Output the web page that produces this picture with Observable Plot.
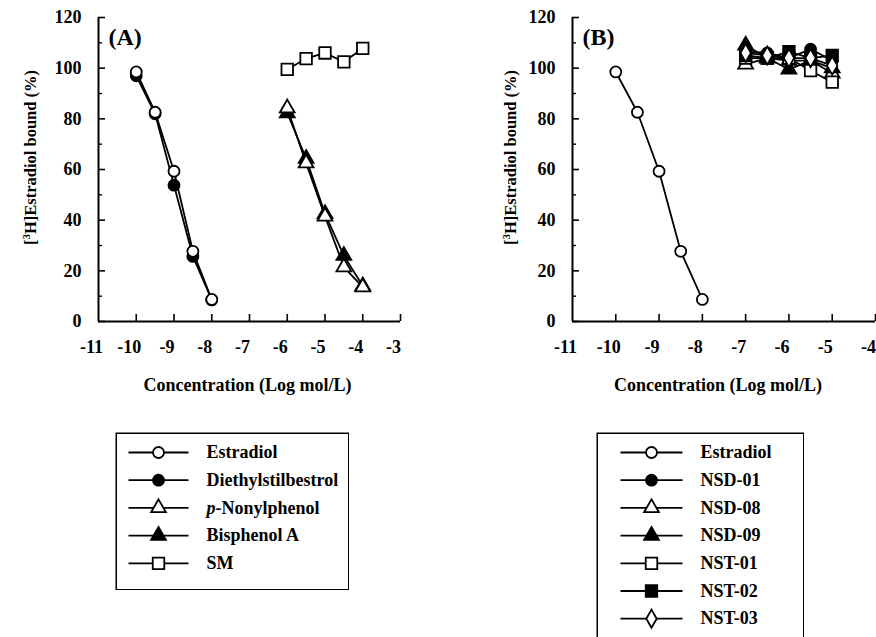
<!DOCTYPE html>
<html><head><meta charset="utf-8">
<script src="https://cdn.jsdelivr.net/npm/d3@7"></script>
<script src="https://cdn.jsdelivr.net/npm/@observablehq/plot@0.6"></script>
<style>
html,body{margin:0;padding:0;background:#fff;overflow:hidden;}
body{width:876px;height:637px;position:relative;font-family:"Liberation Serif",serif;}
.p{position:absolute;}
</style></head><body>
<div id="pa" class="p" style="left:0;top:0"></div>
<div id="pb" class="p" style="left:440px;top:0"></div>
<div id="la" class="p" style="left:115px;top:432px"></div>
<div id="lb" class="p" style="left:596px;top:432px"></div>
<script>
// ---- data ----
const yTicks = [0, 20, 40, 60, 80, 100, 120];
const xTicksA = [-11, -10, -9, -8, -7, -6, -5, -4, -3];
const xTicksB = [-11, -10, -9, -8, -7, -6, -5, -4];

const concE2 = [-10, -9.5, -9, -8.5, -8];
const estradiol = [98.5, 82.6, 59.3, 27.7, 8.7];
const diethylstilbestrol = [97, 82, 53.8, 25.7, 8.5];

const concEnv = [-6, -5.5, -5, -4.5, -4];
const nonylphenol = [84.2, 62.5, 41.5, 21.5, 13.6];
const bisphenolA = [82.3, 64.3, 42.5, 26, 14];
const smValues = [99.5, 103.8, 106, 102.5, 107.8];

const concNS = [-7, -6.5, -6, -5.5, -5];
const nsd01 = [106.5, 106, 104, 107.5, 103];
const nsd08 = [101.5, 104, 103, 103, 98];
const nsd09 = [109, 104, 99.5, 103, 100];
const nst01 = [104, 104, 104, 99, 94.5];
const nst02 = [105, 104, 106.5, 104, 105];
const nst03 = [106, 105, 104, 104, 101];

const seriesA = [
  {name: "Estradiol", x: concE2, y: estradiol, symbol: "circle", fill: "white", r: 5.5},
  {name: "Diethylstilbestrol", x: concE2, y: diethylstilbestrol, symbol: "circle", fill: "black", r: 5.5},
  {name: "p-Nonylphenol", x: concEnv, y: nonylphenol, symbol: "triangle", fill: "white", r: 5.5},
  {name: "Bisphenol A", x: concEnv, y: bisphenolA, symbol: "triangle", fill: "black", r: 5.5},
  {name: "SM", x: concEnv, y: smValues, symbol: "square", fill: "white", r: 6.5}
];
const seriesB = [
  {name: "Estradiol", x: concE2, y: estradiol, symbol: "circle", fill: "white", r: 5.5},
  {name: "NSD-01", x: concNS, y: nsd01, symbol: "circle", fill: "black", r: 5.5},
  {name: "NSD-08", x: concNS, y: nsd08, symbol: "triangle", fill: "white", r: 5.5},
  {name: "NSD-09", x: concNS, y: nsd09, symbol: "triangle", fill: "black", r: 5.5},
  {name: "NST-01", x: concNS, y: nst01, symbol: "square", fill: "white", r: 6.5},
  {name: "NST-02", x: concNS, y: nst02, symbol: "square", fill: "black", r: 6.5},
  {name: "NST-03", x: concNS, y: nst03, symbol: "diamond", fill: "white", r: 5.5}
];
const drawOrderA = [1, 3, 2, 4, 0];
const drawOrderB = [0, 1, 2, 3, 4, 5, 6];

const FONT = "Liberation Serif, Times New Roman, serif";

function rowsOf(s) { return s.y.map((v, i) => ({name: s.name, x: s.x[i], y: v})); }

function panel(series, order, xDomain, xTicks, cfg) {
  const H = 400, mt = 17, mb = 79;
  const plotW = cfg.width - cfg.ml - cfg.mr, plotH = H - mt - mb;
  const all = series.flatMap(rowsOf);
  const marks = [
    Plot.ruleX([xDomain[0]], {strokeWidth: 2}),
    Plot.ruleY([0], {strokeWidth: 2}),
    Plot.tickY(yTicks, {y: d => d, insetRight: plotW - 7, strokeWidth: 1.6}),
    Plot.tickY(d3.range(10, 120, 20), {y: d => d, insetRight: plotW - 4, strokeWidth: 1.4}),
    Plot.tickX(xTicks.slice(1), {x: d => d, insetTop: plotH - 7, strokeWidth: 1.6}),
    Plot.axisY({ticks: yTicks, tickSize: 0, tickPadding: 17, fontSize: 18, fontWeight: "bold", tickFormat: d => String(d), label: null}),
    Plot.axisX({ticks: xTicks, tickSize: 0, tickPadding: 19, fontSize: 18, fontWeight: "bold", dx: -7, tickFormat: d => String(d), label: null}),
    Plot.line(all, {x: "x", y: "y", z: "name", stroke: "black", strokeWidth: 1.8}),
    ...order.map(i => {
      const s = series[i];
      return Plot.dot(rowsOf(s), {x: "x", y: "y", symbol: s.symbol, r: s.r, fill: s.fill, stroke: "black", strokeWidth: 1.8});
    }),
    Plot.text([cfg.tag], {frameAnchor: "top-left", dx: 10, dy: 20, textAnchor: "start", lineAnchor: "middle", fontSize: 24, fontWeight: "bold"}),
    Plot.text(["Concentration (Log mol/L)"], {frameAnchor: "bottom", lineAnchor: "middle", dx: cfg.tdx, dy: 64, fontSize: 18, fontWeight: "bold"}),
    Plot.text(["[3H]Estradiol bound (%)"], {frameAnchor: "left", textAnchor: "middle", lineAnchor: "middle", rotate: -90, dx: cfg.ydx, dy: -12, fontSize: 16.5, fontWeight: "bold"})
  ];
  return Plot.plot({
    width: cfg.width, height: H, marginLeft: cfg.ml, marginRight: cfg.mr, marginTop: mt, marginBottom: mb,
    x: {domain: xDomain, axis: null},
    y: {domain: [0, 120], axis: null},
    style: {fontFamily: FONT, fontWeight: "bold", fontSize: "18px", color: "black", background: "white", overflow: "visible"},
    marks
  });
}

function legend(series, cfg) {
  const rows = series.map((s, i) => ({...s, row: 20 + i * 27.7}));
  const marks = [
    Plot.frame({inset: 0.75, strokeWidth: 1.5}),
    Plot.link(rows, {x1: cfg.l1, x2: cfg.l2, y1: "row", y2: "row", stroke: "black", strokeWidth: 1.8}),
    ...rows.map(s => Plot.dot([s], {x: cfg.m, y: "row", symbol: s.symbol, r: s.r, fill: s.fill, stroke: "black", strokeWidth: 1.8})),
    Plot.text(rows, {x: cfg.t, y: "row", text: "name", textAnchor: "start", fontSize: 18, fontWeight: "bold"})
  ];
  return Plot.plot({
    width: cfg.w, height: cfg.h, margin: 0,
    x: {domain: [0, cfg.w], range: [0, cfg.w], axis: null},
    y: {domain: [0, cfg.h], range: [0, cfg.h], axis: null},
    style: {fontFamily: FONT, fontWeight: "bold", fontSize: "18px", color: "black", background: "white"},
    marks
  });
}

function richText(root) {
  root.querySelectorAll("text").forEach(t => {
    if (t.textContent === "[3H]Estradiol bound (%)") {
      t.innerHTML = '[<tspan dy="-6" font-size="11">3</tspan><tspan dy="6">H]Estradiol bound (%)</tspan>';
    } else if (t.textContent === "p-Nonylphenol") {
      t.innerHTML = '<tspan font-style="italic">p</tspan>-Nonylphenol';
    }
  });
}

const pa = panel(seriesA, drawOrderA, [-11, -3], xTicksA, {width: 440, ml: 98, mr: 40, tag: "(A)", tdx: -2, ydx: -68});
const pb = panel(seriesB, drawOrderB, [-11, -4], xTicksB, {width: 436, ml: 132, mr: 1, tag: "(B)", tdx: -6, ydx: -62});
const la = legend(seriesA, {w: 234, h: 158, l1: 13, l2: 73, m: 43, t: 91});
const lb = legend(seriesB, {w: 208, h: 215, l1: 24, l2: 86, m: 55, t: 104});
[pa, pb, la, lb].forEach(richText);
document.getElementById("pa").appendChild(pa);
document.getElementById("pb").appendChild(pb);
document.getElementById("la").appendChild(la);
document.getElementById("lb").appendChild(lb);
</script>
</body></html>
